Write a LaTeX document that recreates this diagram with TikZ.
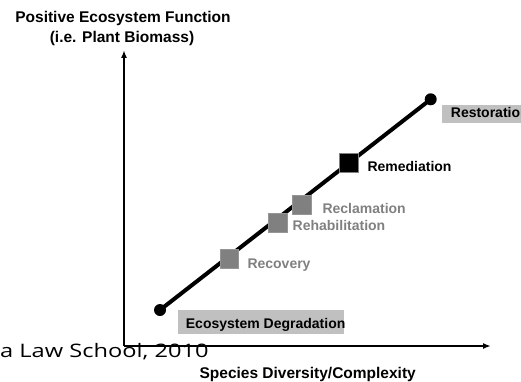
\documentclass[tikz,border=0pt]{standalone}
\usepackage{fontspec}
\setmainfont{Liberation Sans}
\newfontfamily\overlayfont{Open Sans}
\usetikzlibrary{arrows.meta}
\definecolor{boxgrey}{RGB}{192,192,192}
\definecolor{sqgrey}{RGB}{128,128,128}
\definecolor{sqedge}{RGB}{150,150,150}
\definecolor{txtgrey}{RGB}{128,128,128}
\tikzset{
  axis/.style={line width=1.8pt,-{Latex[length=8pt,width=6pt]}},
  path/.style={line width=4pt},
  endpt/.style={circle,fill=black,minimum size=12pt,inner sep=0pt},
  sqbox/.style={rectangle,minimum size=18.5pt,inner sep=0pt,line width=0.8pt},
  greysq/.style={sqbox,fill=sqgrey,draw=sqedge},
  blacksq/.style={sqbox,fill=black,draw=sqgrey},
  axlabel/.style={font=\fontsize{15.5}{20}\selectfont\bfseries,inner sep=0pt,align=center},
  lbl/.style={font=\fontsize{14}{17}\selectfont\bfseries,inner sep=0pt,anchor=base west},
  greylbl/.style={lbl,text=txtgrey},
  greybox/.style={fill=boxgrey}
}
\begin{document}
\begin{tikzpicture}[x=1pt,y=-1pt]
\useasboundingbox (0,0) rectangle (521,382);
% overlay text
\node[inner sep=0pt,anchor=base west] (law) at (0,357.3) {\scalebox{1.27}[1]{\overlayfont\fontsize{18.6}{22}\selectfont a Law School, 2010}};
% axes
\coordinate (origin) at (124,346);
\coordinate (ytip) at (124,50);
\coordinate (xtip) at (491,346);
\draw[axis] (origin) -- (ytip);
\draw[axis] (origin) -- (xtip);
\node[axlabel,anchor=base] (ylab1) at (123,23) {Positive Ecosystem Function};
\node[axlabel,anchor=base] (ylab2) at (122,43) {(i.e. Plant Biomass)};
\node[axlabel,anchor=base] (xlab) at (307.7,378.3) {Species Diversity/Complexity};
% grey boxes
\fill[greybox] (442.3,105) rectangle (530,123.3);
\fill[greybox] (178.3,310) rectangle (344.3,334.3);
% trajectory
\node[endpt] (deg) at (160,310) {};
\node[endpt] (rest) at (430.7,99.3) {};
\draw[path] (deg.center) -- (rest.center);
\node[greysq] (recov) at (229.5,259) {};
\node[greysq] (rehab) at (277.7,223) {};
\node[greysq] (reclam) at (302,205) {};
\node[blacksq] (remed) at (349,162.7) {};
% labels
\node[lbl] (lrest) at (450.7,117.3) {Restoration};
\node[lbl] (lremed) at (367.3,171) {Remediation};
\node[greylbl] (lreclam) at (322.3,213.3) {Reclamation};
\node[greylbl] (lrehab) at (292.5,230.7) {Rehabilitation};
\node[greylbl] (lrecov) at (247.3,268.3) {Recovery};
\node[lbl] (ldeg) at (185.7,328.3) {Ecosystem Degradation};
\end{tikzpicture}
\end{document}
